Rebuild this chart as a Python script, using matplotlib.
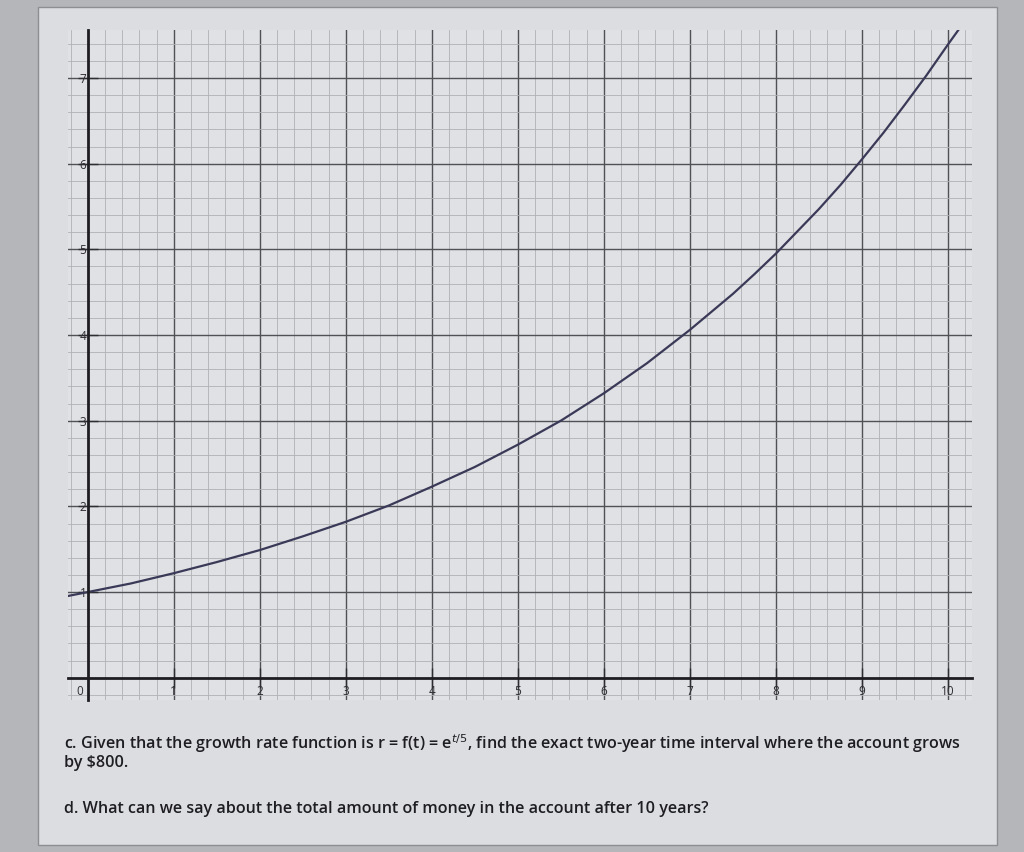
import matplotlib
matplotlib.use("Agg")
import matplotlib.pyplot as plt
from matplotlib.patches import Rectangle
from matplotlib.ticker import MultipleLocator

# values (t in years, r)
t_vals = [-0.25, 0.0, 0.5, 1.0, 1.5, 2.0, 2.5, 3.0, 3.5, 4.0, 4.5, 5.0,
          5.5, 6.0, 6.5, 7.0, 7.5, 7.75, 8.0, 8.25, 8.5, 8.75, 9.0, 9.25,
          9.5, 9.75, 10.0, 10.15]
r_vals = [0.95, 1.00, 1.10, 1.22, 1.35, 1.49, 1.65, 1.82, 2.01, 2.23, 2.46, 2.72,
          3.00, 3.32, 3.67, 4.06, 4.48, 4.71, 4.95, 5.21, 5.47, 5.75, 6.05, 6.36,
          6.69, 7.03, 7.39, 7.60]

x_ticks = [1, 2, 3, 4, 5, 6, 7, 8, 9, 10]
y_ticks = [1, 2, 3, 4, 5, 6, 7]

question_c = ("c. Given that the growth rate function is r = f(t) = e$^{t/5}$, "
              "find the exact two-year time interval where the account grows")
question_c2 = "by $800."
question_d = "d. What can we say about the total amount of money in the account after 10 years?"

#====================================================================================================

def main():
    plt.rcParams['font.family'] = ['Open Sans', 'DejaVu Sans']

    fig = plt.figure(figsize=(10.24, 8.52), dpi=100)
    fig.patch.set_facecolor("#b4b6ba")

    # the worksheet page
    page = Rectangle((38 / 1024, 7 / 852), (997 - 38) / 1024, (845 - 7) / 852,
                     transform=fig.transFigure, facecolor="#dcdde1",
                     edgecolor="#8c8e92", linewidth=1.0, zorder=-5)
    fig.patches.append(page)

    axis = fig.add_axes([68 / 1024, 1 - 700 / 852, (972 - 68) / 1024, (700 - 30) / 852])
    axis.set_zorder(2)
    axis.set_facecolor("#e0e1e4")
    axis.set_xlim(-0.23, 10.28)
    axis.set_ylim(-0.26, 7.56)

    axis.xaxis.set_major_locator(MultipleLocator(1))
    axis.yaxis.set_major_locator(MultipleLocator(1))
    axis.xaxis.set_minor_locator(MultipleLocator(0.2))
    axis.yaxis.set_minor_locator(MultipleLocator(0.2))
    axis.grid(which="minor", color="#b0b1b5", linewidth=0.6)
    axis.grid(which="major", color="#505156", linewidth=1.0)
    axis.set_axisbelow(True)

    for side in ["top", "right"]:
        axis.spines[side].set_visible(False)
    axis.spines["left"].set_position(("data", 0))
    axis.spines["bottom"].set_position(("data", 0))
    axis.spines["left"].set_linewidth(2.0)
    axis.spines["bottom"].set_linewidth(2.0)
    axis.spines["left"].set_color("#1e1e22")
    axis.spines["bottom"].set_color("#1e1e22")

    axis.set_xticks(x_ticks)
    axis.set_yticks(y_ticks)
    axis.set_xticklabels([str(v) for v in x_ticks])
    axis.set_yticklabels([str(v) for v in y_ticks])
    axis.tick_params(axis="x", which="major", direction="inout", length=14, width=1.0,
                     colors="#2e2e32", labelsize=8.5, pad=-2)
    axis.tick_params(axis="y", which="major", direction="inout", length=14, width=1.0,
                     colors="#2e2e32", labelsize=8.5, pad=-6)
    axis.tick_params(which="minor", length=0)
    axis.text(-0.05, -0.08, "0", ha="right", va="top", fontsize=8.5, color="#2e2e32")

    # the curve
    axis.plot(t_vals, r_vals, color="#3a3a58", linewidth=1.6, solid_capstyle="round")

    # questions below the graph
    fig.text(64 / 1024, 1 - 744 / 852, question_c, fontsize=11.6, color="#1e1e22",
             va="center", fontweight="semibold")
    fig.text(64 / 1024, 1 - 763 / 852, question_c2, fontsize=11.6, color="#1e1e22",
             va="center", fontweight="semibold")
    fig.text(64 / 1024, 1 - 809 / 852, question_d, fontsize=11.6, color="#1e1e22",
             va="center", fontweight="semibold")

    plotSave = "out.png"
    fig.savefig(plotSave, dpi=100, facecolor=fig.get_facecolor())
    print("Created {plot}".format(plot=plotSave))

#====================================================================================================

if __name__ == "__main__":
    main()
